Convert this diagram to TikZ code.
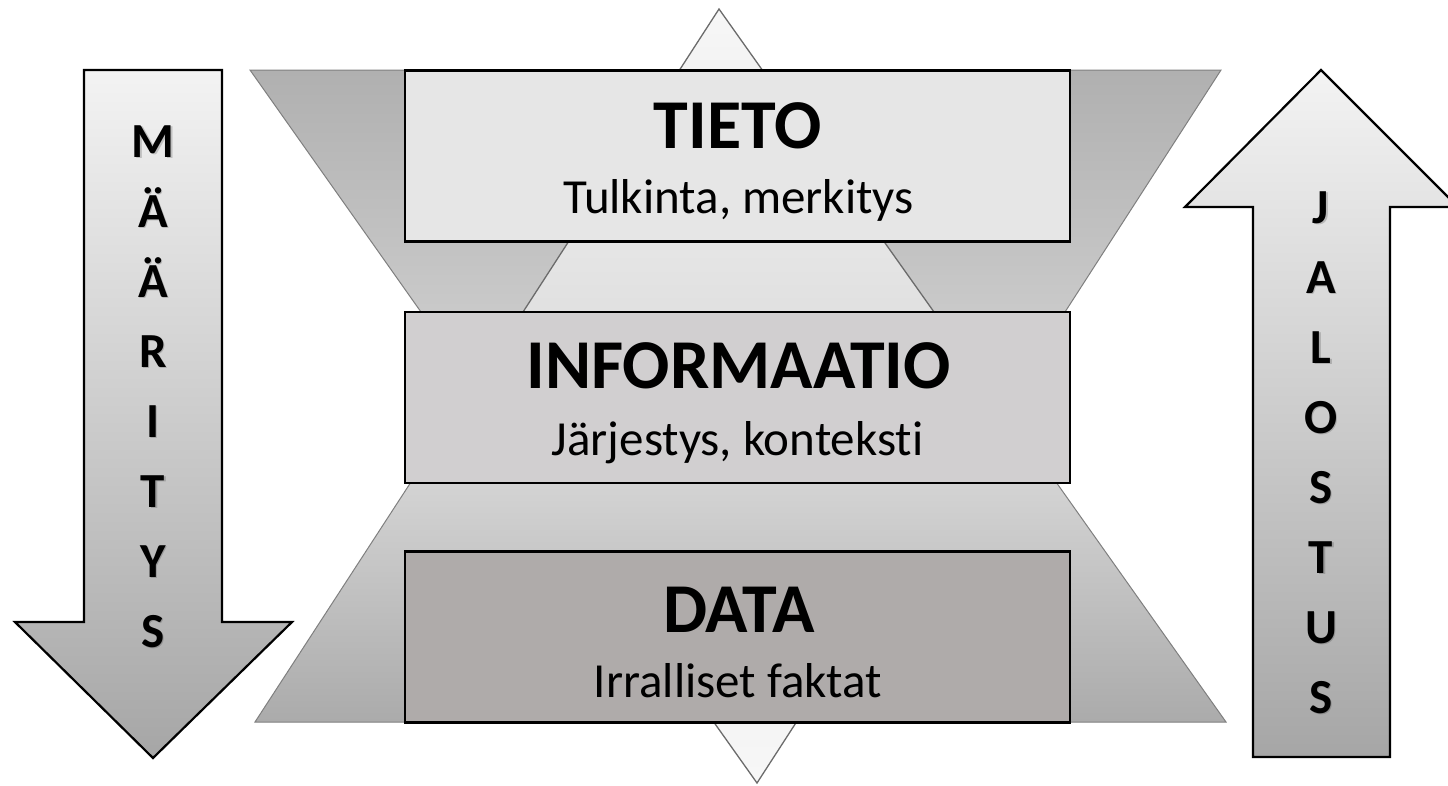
\documentclass[tikz,border=0pt]{standalone}
\usepackage{fontspec}
\setmainfont{Carlito}[Ligatures=NoCommon]
\definecolor{boxA}{HTML}{E6E6E6}
\definecolor{boxB}{HTML}{D1CFD0}
\definecolor{boxC}{HTML}{AFABAA}
\definecolor{edgegray}{HTML}{7F7F7F}
\definecolor{arrtop}{HTML}{F3F3F3}
\definecolor{arrbot}{HTML}{A6A6A6}
\begin{document}
\begin{tikzpicture}[x=1pt,y=-1pt,
  arrowshape/.style={draw=black,line width=2.2pt,line join=miter,top color=arrtop,bottom color=arrbot},
  trapezup/.style={draw=edgegray,line width=1pt,top color=black!31,bottom color=black!21},
  trapezdown/.style={draw=edgegray,line width=1pt,top color=black!17,bottom color=black!33},
  lighttri/.style={draw=black!58,line width=1.3pt,top color=black!3,bottom color=black!12},
  lighttridown/.style={draw=black!58,line width=1.3pt,top color=black!9,bottom color=black!3},
  layerbox/.style={draw=black,line width=2.2pt,minimum width=665pt,minimum height=171pt,inner sep=0pt},
  titletext/.style={font=\bfseries\fontsize{70}{70}\selectfont,anchor=base,inner sep=0pt},
  subtext/.style={font=\fontsize{49}{49}\selectfont,anchor=base,inner sep=0pt},
  lettertext/.style={font=\bfseries\fontsize{49}{49}\selectfont,anchor=base,inner sep=0pt},
  lettershadow/.style={font=\bfseries\fontsize{49}{49}\selectfont,anchor=base,inner sep=0pt,text=black,opacity=0.18}
]
\useasboundingbox (0,0) rectangle (1448,785);

% side arrows
\path[arrowshape] (84,70) -- (222,70) -- (222,622) -- (292,622) -- (153,758) -- (15,622) -- (84,622) -- cycle;
\path[arrowshape] (1321,70) -- (1458,207) -- (1390,207) -- (1390,757) -- (1253,757) -- (1253,207) -- (1185,207) -- cycle;

% upper trapezoid and triangle
\path[trapezup] (250,70) -- (1221,70) -- (1065,312) -- (421,312) -- cycle;
\path[lighttri] (719,9) -- (934,312) -- (523,312) -- cycle;

% lower triangle and trapezoid
\path[lighttridown] (757,783) -- (542,480) -- (953,480) -- cycle;
\path[trapezdown] (411,482) -- (1056,482) -- (1226,722) -- (255,722) -- cycle;

% layer boxes
\node[layerbox,fill=boxA] (tieto) at (737.5,156) {};
\node[layerbox,fill=boxB] (info) at (737.5,397.5) {};
\node[layerbox,fill=boxC] (data) at (737.5,637) {};

\node[titletext] (tietoT) at (737.5,148) {TIETO};
\node[subtext] (tietoS) at (738.5,213) {Tulkinta, merkitys};
\node[titletext] (infoT) at (738.5,388) {INFORMAATIO};
\node[subtext] (infoS) at (737.5,455) {Järjestys, konteksti};
\node[titletext] (dataT) at (739,632) {DATA};
\node[subtext] (dataS) at (738,697) {Irralliset faktat};

% vertical words
\foreach \ch [count=\i] in {M,Ä,Ä,R,I,T,Y,S} {
  \node[lettershadow] (mS\i) at (154.5,158.5+70*\i-70) {\ch};
  \node[lettertext] (m\i) at (153,157+70*\i-70) {\ch};
}
\foreach \ch [count=\i] in {J,A,L,O,S,T,U,S} {
  \node[lettershadow] (jS\i) at (1322.5,224.5+70*\i-70) {\ch};
  \node[lettertext] (j\i) at (1321,223+70*\i-70) {\ch};
}
\end{tikzpicture}
\end{document}
